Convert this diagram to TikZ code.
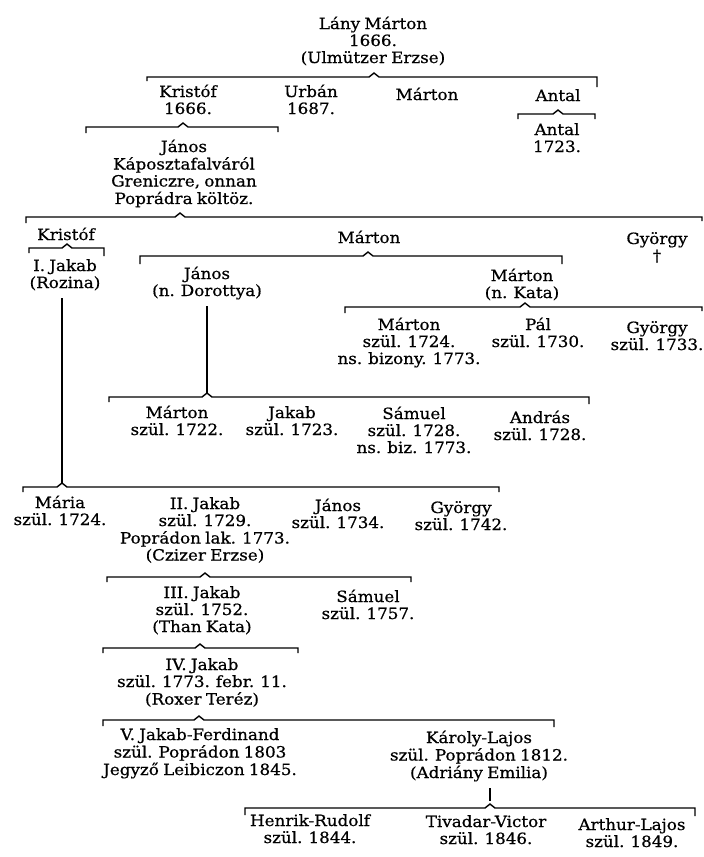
\documentclass[tikz,border=0pt]{standalone}
\usepackage{fontspec}
\setmainfont[FakeStretch=1.08,FakeBold=0.6,WordSpace=0.8]{DejaVu Serif}
\usetikzlibrary{calc}
\newcommand\ppl[1]{\begin{tabular}[t]{@{}c@{}}#1\end{tabular}}
\newcommand\genbr[7]{%
  \coordinate (#1l) at (#2,#5);
  \coordinate (#1r) at (#3,#5);
  \coordinate (#1c) at (#4,#5);
  \coordinate (#1p) at (#4,#5-4);
  \draw[brk] ($(#1l)+(0,#6)$) -- (#1l) -- ($(#1c)+(-5,0)$) -- (#1p) -- ($(#1c)+(5,0)$) -- (#1r) -- ($(#1r)+(0,#7)$);
}
\tikzset{
  brk/.style={line width=1.4pt, draw=black},
  pers/.style={anchor=base, inner sep=0pt, text=black, font=\fontsize{15.5}{17}\selectfont}
}
\begin{document}
\begin{tikzpicture}[x=1pt,y=-1pt]
\fill[white] (0,0) rectangle (704,857);
\useasboundingbox (0,0) rectangle (704,857);
% persons
\node[pers] (root) at (373,29) {\ppl{Lány Márton\\1666.\\(Ulmützer Erzse)}};
\node[pers] (kristof1) at (188,97) {\ppl{Kristóf\\1666.}};
\node[pers] (urban) at (311,97) {\ppl{Urbán\\1687.}};
\node[pers] (marton1) at (427,100) {\ppl{Márton}};
\node[pers] (antal1) at (558,101) {\ppl{Antal}};
\node[pers] (antal2) at (557,135) {\ppl{Antal\\1723.}};
\node[pers] (janos1) at (184,152) {\ppl{János\\Káposztafalváról\\Greniczre, onnan\\Poprádra költöz.}};
\node[pers] (kristof2) at (66,240) {\ppl{Kristóf}};
\node[pers] (marton2) at (369,243) {\ppl{Márton}};
\node[pers] (gyorgy1) at (657,244) {\ppl{György\\†}};
\node[pers] (ijakab) at (65,271) {\ppl{I. Jakab\\(Rozina)}};
\node[pers] (janos2) at (207,279) {\ppl{János\\(n. Dorottya)}};
\node[pers] (marton3) at (522,281) {\ppl{Márton\\(n. Kata)}};
\node[pers] (marton4) at (409,330) {\ppl{Márton\\szül. 1724.\\ns. bizony. 1773.}};
\node[pers] (pal) at (538,330) {\ppl{Pál\\szül. 1730.}};
\node[pers] (gyorgy2) at (657,333) {\ppl{György\\szül. 1733.}};
\node[pers] (marton5) at (177,418) {\ppl{Márton\\szül. 1722.}};
\node[pers] (jakab) at (292,418) {\ppl{Jakab\\szül. 1723.}};
\node[pers] (samuel1) at (414,419) {\ppl{Sámuel\\szül. 1728.\\ns. biz. 1773.}};
\node[pers] (andras) at (540,423) {\ppl{András\\szül. 1728.}};
\node[pers] (maria) at (60,508) {\ppl{Mária\\szül. 1724.}};
\node[pers] (iijakab) at (205,509) {\ppl{II. Jakab\\szül. 1729.\\Poprádon lak. 1773.\\(Czizer Erzse)}};
\node[pers] (janos3) at (338,511) {\ppl{János\\szül. 1734.}};
\node[pers] (gyorgy3) at (461,513) {\ppl{György\\szül. 1742.}};
\node[pers] (iiijakab) at (202,598) {\ppl{III. Jakab\\szül. 1752.\\(Than Kata)}};
\node[pers] (samuel2) at (368,602) {\ppl{Sámuel\\szül. 1757.}};
\node[pers] (ivjakab) at (202,670) {\ppl{IV. Jakab\\szül. 1773. febr. 11.\\(Roxer Teréz)}};
\node[pers] (vjakab) at (200,740) {\ppl{V. Jakab-Ferdinand\\szül. Poprádon 1803\\Jegyző Leibiczon 1845.}};
\node[pers] (karoly) at (479,743) {\ppl{Károly-Lajos\\szül. Poprádon 1812.\\(Adriány Emilia)}};
\node[pers] (henrik) at (310,826) {\ppl{Henrik-Rudolf\\szül. 1844.}};
\node[pers] (tivadar) at (486,827) {\ppl{Tivadar-Victor\\szül. 1846.}};
\node[pers] (arthur) at (632,830) {\ppl{Arthur-Lajos\\szül. 1849.}};
% brackets: name, left x, right x, caret x, y, left tick, right tick
\genbr{b1}{147}{597}{374}{77}{4}{10}
\genbr{b2}{86}{278}{183}{127}{6}{5}
\genbr{b3}{518}{595}{558}{114}{5}{5}
\genbr{b4}{26}{702}{180}{217}{6}{4}
\genbr{b5}{29}{104}{67}{248}{5}{8}
\genbr{b6}{140}{562}{368}{256}{8}{8}
\genbr{b7}{345}{702}{525}{307}{6}{4}
\genbr{b8}{109}{589}{207}{397}{5}{7}
\genbr{b9}{23}{499}{62}{487}{5}{5}
\genbr{b10}{107}{411}{205}{577}{5}{5}
\genbr{b11}{103}{298}{200}{648}{5}{5}
\genbr{b12}{103}{554}{199}{720}{6}{7}
\genbr{b13}{245}{695}{490}{808}{7}{8}
% descent lines
\draw[brk, shorten >=5pt] (b8p) -- (b8p |- janos2.south);
\draw[brk, shorten >=5pt] (b9p) -- (b9p |- ijakab.south);
\draw[brk, shorten <=5pt, shorten >=3pt] (b13p |- karoly.south) -- (b13p);
\end{tikzpicture}
\end{document}
